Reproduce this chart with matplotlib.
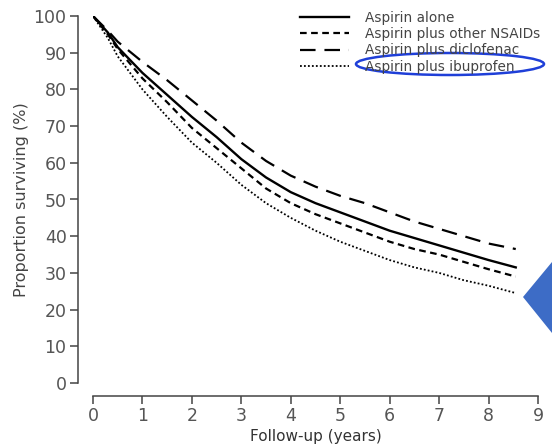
import matplotlib
matplotlib.use("Agg")
import matplotlib.pyplot as plt
from matplotlib.patches import Ellipse, Polygon

plt.rcParams['font.family'] = ['DejaVu Sans']

years = [0, 0.3, 0.5, 1, 1.5, 2, 2.5, 3, 3.5, 4, 4.5, 5, 5.5, 6, 6.5, 7, 7.5, 8, 8.55]
aspirin_alone = [100, 95.5, 91.5, 84.5, 78.5, 72.5, 67, 61, 56, 52, 49, 46.5, 44, 41.5, 39.5, 37.5, 35.5, 33.5, 31.5]
aspirin_other = [100, 95, 91, 83, 76.5, 69.5, 64, 58.5, 53, 49, 46, 43.5, 41, 38.5, 36.5, 35, 33, 31, 29]
aspirin_diclo = [100, 96, 93, 87.5, 82.5, 77, 71.5, 65.5, 60.5, 56.5, 53.5, 51, 49, 46.5, 44, 42, 40, 38, 36.5]
aspirin_ibu = [100, 94, 89, 80, 72.5, 65.5, 60, 54, 49, 45, 41.5, 38.5, 36, 33.5, 31.5, 30, 28, 26.5, 24.5]

labels = ["Aspirin alone", "Aspirin plus other NSAIDs", "Aspirin plus diclofenac", "Aspirin plus ibuprofen"]
xticks = list(range(0, 10))
yticks = list(range(0, 101, 10))

W, H = 552, 448
fig = plt.figure(figsize=(W / 100, H / 100), dpi=100)
ax = fig.add_axes([93 / W, 1 - 383 / H, (538 - 93) / W, (383 - 16) / H])

ax.plot(years, aspirin_alone, color='black', lw=1.7, ls='-', label=labels[0])
ax.plot(years, aspirin_other, color='black', lw=1.6, ls=(0, (3, 2)), label=labels[1])
ax.plot(years, aspirin_diclo, color='black', lw=1.6, ls=(0, (7, 4)), label=labels[2])
ax.plot(years, aspirin_ibu, color='black', lw=1.3, ls=(0, (1, 1.2)), label=labels[3])

ax.set_xlim(0, 9)
ax.set_ylim(0, 100)
ax.set_xticks(xticks)
ax.set_yticks(yticks)
for s in ['top', 'right']:
    ax.spines[s].set_visible(False)
ax.spines['left'].set_position(('outward', 11))
ax.spines['bottom'].set_position(('outward', 9))
for s in ['left', 'bottom']:
    ax.spines[s].set_color('#444444')
    ax.spines[s].set_linewidth(1.1)
ax.tick_params(axis='both', direction='out', length=6, width=1.1, color='#444444',
               labelsize=12.5, labelcolor='#555555', pad=2)

ax.set_xlabel("Follow-up (years)", fontsize=11, color='#333333', labelpad=3)
ax.set_ylabel("Proportion surviving (%)", fontsize=11.5, color='#444444', labelpad=3)

leg = fig.legend(loc='upper left', bbox_to_anchor=(300 / W, 1 - 11 / H), frameon=False,
                 fontsize=9.8, handlelength=3.6, handletextpad=1.2, labelspacing=0.16,
                 borderpad=0, borderaxespad=0)
for t in leg.get_texts():
    t.set_color('#444444')

ell = Ellipse((450 / W, 1 - 64 / H), 188 / W, 22 / H, transform=fig.transFigure,
              fill=False, edgecolor='#1f3fd8', lw=1.8)
fig.add_artist(ell)

arrow = Polygon([(523 / W, 1 - 297 / H), (552 / W, 1 - 262 / H), (552 / W, 1 - 333 / H)],
                closed=True, transform=fig.transFigure, facecolor='#3d6cc6', edgecolor='none')
fig.add_artist(arrow)

fig.savefig("out.png", dpi=100)
